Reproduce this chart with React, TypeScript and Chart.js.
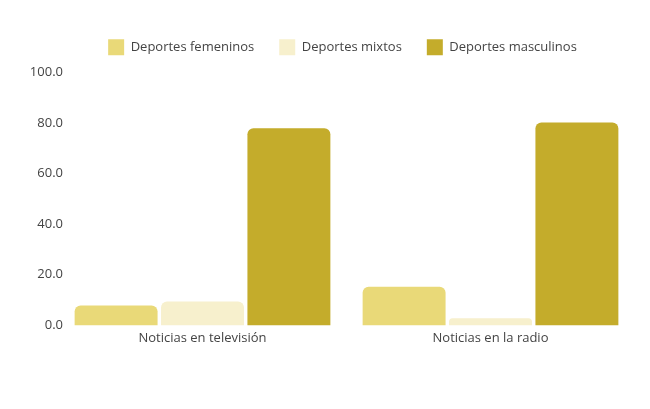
import React, { useEffect, useRef } from "react";
import { Chart, registerables } from "chart.js";

Chart.register(...registerables);

const categories = ["Noticias en televisión", "Noticias en la radio"];
const seriesNames = ["Deportes femeninos", "Deportes mixtos", "Deportes masculinos"];
const femeninos = [7.9, 15.3];
const mixtos = [9.4, 2.8];
const masculinos = [77.9, 80.2];
const seriesColors = ["#e9d978", "#f7f0cd", "#c4ac2b"];
const yTicks = [0, 20, 40, 60, 80, 100];

const legendAdjust = {
  id: "legendAdjust",
  beforeInit(chart: any) {
    const legend = chart.legend;
    if (!legend) return;
    const origFit = legend.fit;
    legend.fit = function () {
      origFit.call(this);
      this.height += 7;
    };
  },
  afterLayout(chart: any) {
    const legend = chart.legend;
    if (!legend) return;
    legend.left += 25.25;
    legend.right += 25.25;
  },
};

export default function App() {
  const ref = useRef<HTMLCanvasElement | null>(null);
  useEffect(() => {
    document.body.style.margin = "0";
    const ctx = ref.current!;
    const values = [femeninos, mixtos, masculinos];
    const chart = new Chart(ctx, {
      type: "bar",
      data: {
        labels: categories,
        datasets: seriesNames.map((name, i) => ({
          label: name,
          data: values[i],
          backgroundColor: seriesColors[i],
          borderWidth: 0,
          borderRadius: 6,
          barPercentage: 0.96,
          categoryPercentage: 0.9,
        })),
      },
      plugins: [legendAdjust],
      options: {
        animation: false,
        responsive: false,
        maintainAspectRatio: false,
        layout: { padding: { left: 0, right: 15.5, top: 14.3, bottom: 58 } },
        font: { family: "'Open Sans'", size: 13 },
        plugins: {
          legend: {
            position: "top",
            labels: {
              boxWidth: 16,
              boxHeight: 16,
              padding: 25,
              color: "#444",
              font: { family: "'Open Sans'", size: 13 },
            },
          },
          tooltip: { enabled: false },
        },
        scales: {
          x: {
            grid: { display: false, drawTicks: false },
            border: { display: false },
            ticks: { color: "#444", font: { family: "'Open Sans'", size: 13 }, padding: 5 },
          },
          y: {
            min: 0,
            max: 100,
            afterBuildTicks: (scale: any) => {
              scale.ticks = yTicks.map((v) => ({ value: v }));
            },
            afterFit: (scale: any) => {
              scale.width = 58.5;
              scale._computeLabelArea = () => undefined;
            },
            grid: { display: false, drawTicks: false },
            border: { display: false },
            ticks: {
              color: "#444",
              padding: -4.5,
              font: { family: "'Open Sans'", size: 13 },
              callback: (v: any) => Number(v).toFixed(1),
            },
          },
        },
      } as any,
    });
    return () => chart.destroy();
  }, []);
  return (
    <div style={{ width: 650, height: 409 }}>
      <canvas ref={ref} width={650} height={409} style={{ width: 650, height: 409, display: "block" }} />
    </div>
  );
}
